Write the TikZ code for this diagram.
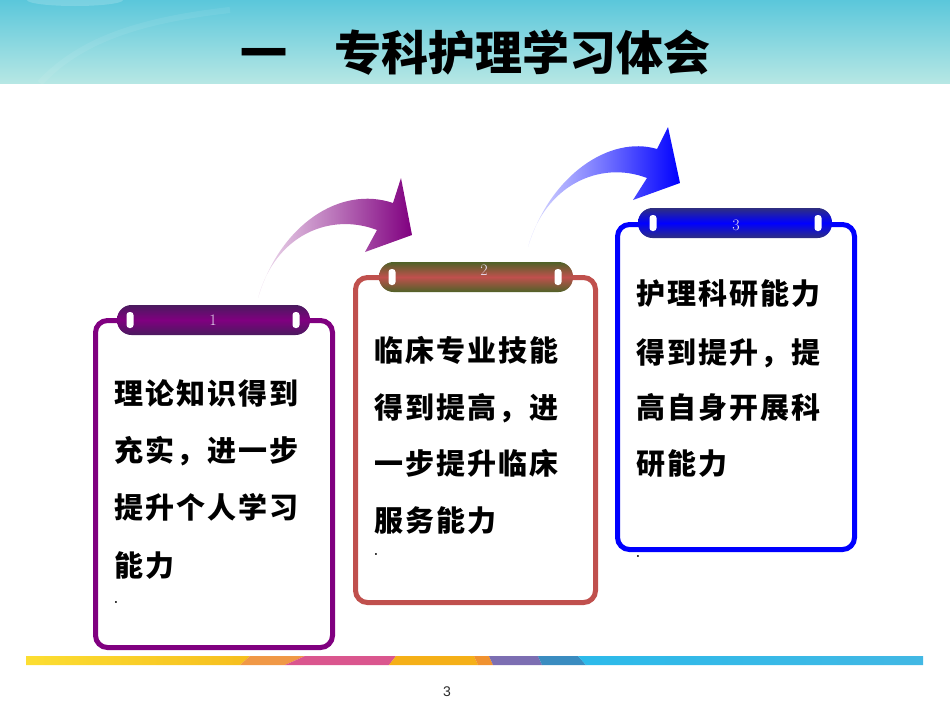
\documentclass[tikz,border=0pt]{standalone}
\usepackage{fontspec}
\newfontfamily\cjk{Noto Sans CJK SC}
\newfontfamily\cjkbody[LetterSpace=7]{Noto Sans CJK SC}
\newfontfamily\pagefont{Liberation Sans}
\definecolor{purA}{HTML}{800080}
\definecolor{purD}{HTML}{4A1A5E}
\definecolor{redA}{HTML}{C0504D}
\definecolor{oliveD}{HTML}{4F6228}
\definecolor{bluA}{HTML}{0000FF}
\definecolor{navyD}{HTML}{2E2E80}
\definecolor{labelc}{HTML}{E8DCF0}
\definecolor{headT}{HTML}{5BC7DB}
\definecolor{headB}{HTML}{B6E7E4}
\definecolor{stYa}{RGB}{252,222,50}
\definecolor{stYb}{RGB}{246,190,30}
\definecolor{stO}{RGB}{240,152,70}
\definecolor{stP}{RGB}{218,86,142}
\definecolor{stY2}{RGB}{245,176,24}
\definecolor{stO2}{RGB}{240,146,48}
\definecolor{stV}{RGB}{124,110,178}
\definecolor{stB}{RGB}{58,140,192}
\definecolor{stCa}{RGB}{44,186,234}
\definecolor{stCb}{RGB}{66,184,228}
\definecolor{pagec}{RGB}{40,40,40}
\tikzset{
  bodytext/.style={anchor=base west, inner sep=0pt, font=\cjkbody\bfseries\fontsize{29}{29}\selectfont, text=black},
  tablabel/.style={inner sep=0pt, font=\fontsize{16}{16}\selectfont, text=labelc},
  hole/.style={fill=white, rounded corners=3pt},
  dotmark/.style={inner sep=0pt, font=\bfseries\fontsize{14}{14}\selectfont},
}
\begin{document}
\begin{tikzpicture}[x=1pt,y=-1pt]
\useasboundingbox (0,0) rectangle (950,713);
% header band
\shade[top color=headT, bottom color=headB] (0,0) rectangle (950,83);
\fill[white, opacity=0.18] (75,0) ellipse (48 and 6);
\draw[white, opacity=0.07, line width=6] (40,83) .. controls (80,40) and (140,20) .. (230,10);
\node[inner sep=0pt, font=\cjk\bfseries\fontsize{47}{47}\selectfont, anchor=base] (title) at (475,70) {一　专科护理学习体会};

% arrow 1
\shade[left color=purA!12, right color=purA, middle color=purA!55!white]
  (258,298) .. controls (280,225) and (340,185) .. (393,203)
  -- (401,178) -- (412,235) -- (365,252) -- (377,230)
  .. controls (330,212) and (275,235) .. (258,298) -- cycle;
% arrow 2
\shade[left color=bluA!12, right color=bluA, middle color=bluA!55!white]
  (528,247) .. controls (550,175) and (610,135) .. (657,149)
  -- (668,127) -- (680,183) -- (633,200) -- (647,178)
  .. controls (600,160) and (545,185) .. (528,247) -- cycle;

% box 1
\draw[purA, line width=5, rounded corners=12] (95.5,320.5) rectangle (332.5,647.5);
\shade[top color=purD, bottom color=purD, middle color=purA, rounded corners=14.5] (117,305) rectangle (310,335);
\fill[hole] (126.5,312) rectangle (133.5,328);
\fill[hole] (292.5,312) rectangle (299.5,328);
\node[tablabel] (n1) at (213,320) {1};
\node[bodytext] (t1a) at (114,404) {理论知识得到};
\node[bodytext] (t1b) at (114,461) {充实，进一步};
\node[bodytext] (t1c) at (114,518) {提升个人学习};
\node[bodytext] (t1d) at (114,576) {能力};
\node[dotmark] (d1) at (116,602) {.};

% box 2
\draw[redA, line width=5, rounded corners=12] (355.5,277.5) rectangle (595.5,602.5);
\shade[top color=oliveD, bottom color=oliveD, middle color=redA, rounded corners=14.5] (379,262) rectangle (573,292);
\fill[hole] (388.5,269) rectangle (395.5,285);
\fill[hole] (554.5,269) rectangle (561.5,285);
\node[tablabel] (n2) at (484,270) {2};
\node[bodytext] (t2a) at (374,361) {临床专业技能};
\node[bodytext] (t2b) at (374,418) {得到提高，进};
\node[bodytext] (t2c) at (374,474) {一步提升临床};
\node[bodytext] (t2d) at (374,531) {服务能力};
\node[dotmark] (d2) at (376,554) {.};

% box 3
\draw[bluA, line width=5, rounded corners=12] (617.5,224.5) rectangle (854.5,549.5);
\shade[top color=navyD, bottom color=navyD, middle color=bluA, rounded corners=14.5] (638,208) rectangle (832,238);
\fill[hole] (649.5,215) rectangle (656.5,231);
\fill[hole] (814.5,215) rectangle (821.5,231);
\node[tablabel] (n3) at (736,225) {3};
\node[bodytext] (t3a) at (636,304) {护理科研能力};
\node[bodytext] (t3b) at (636,363) {得到提升，提};
\node[bodytext] (t3c) at (636,418) {高自身开展科};
\node[bodytext] (t3d) at (636,474) {研能力};
\node[dotmark] (d3) at (638,556) {.};

% bottom stripe
\shade[left color=stYa, right color=stYb] (26,656) -- (250,656) -- (240,665) -- (26,665) -- cycle;
\fill[stO] (250,656) -- (305,656) -- (285,665) -- (240,665) -- cycle;
\fill[stP] (305,656) -- (396,656) -- (389,665) -- (285,665) -- cycle;
\fill[stY2] (396,656) -- (474,656) -- (478,665) -- (389,665) -- cycle;
\fill[stO2] (474,656) -- (489,656) -- (493,665) -- (478,665) -- cycle;
\fill[stV] (489,656) -- (538,656) -- (542,665) -- (493,665) -- cycle;
\fill[stB] (538,656) -- (578,656) -- (586,665) -- (542,665) -- cycle;
\shade[left color=stCa, right color=stCb] (578,656) -- (923,656) -- (923,665) -- (586,665) -- cycle;

\node[inner sep=0pt, font=\pagefont\fontsize{14}{14}\selectfont, text=pagec] (pg) at (447,692) {3};
\end{tikzpicture}
\end{document}
